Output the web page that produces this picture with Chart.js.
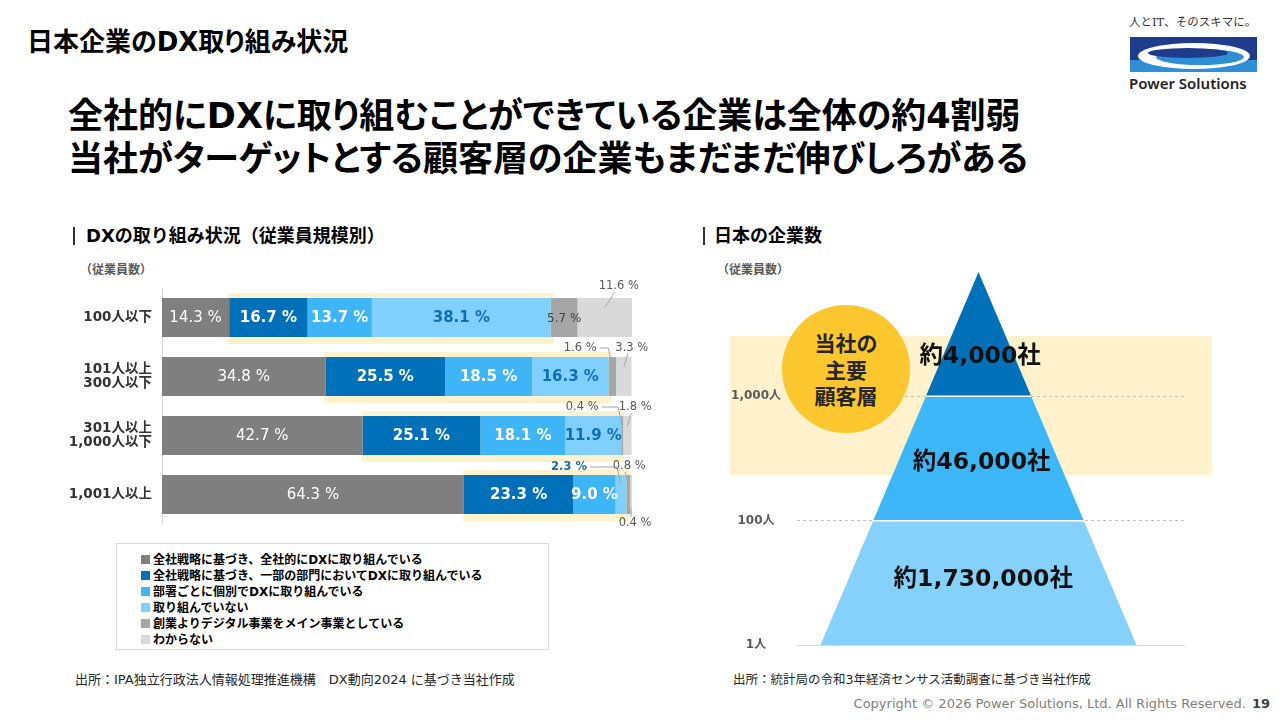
<!DOCTYPE html>
<html lang="ja">
<head>
<meta charset="utf-8">
<title>日本企業のDX取り組み状況</title>
<script src="https://cdn.jsdelivr.net/npm/chart.js@4.4.1/dist/chart.umd.min.js"></script>
<style>
  body { margin: 0; width: 1280px; height: 720px; position: relative; overflow: hidden; background: #fff;
    font-family: "DejaVu Sans", "Noto Sans CJK JP", sans-serif; color: #000; }
  .abs { position: absolute; white-space: nowrap; }
  .title { left: 27px; top: 26px; font-size: 26px; line-height: 32px; font-weight: bold; font-feature-settings: "palt"; }
  .headline { left: 68px; top: 95px; font-size: 35px; line-height: 43px; font-weight: bold; font-feature-settings: "palt"; }
  .sec { font-size: 18px; line-height: 22px; top: 225px; font-weight: bold; }
  .bar { width: 2px; height: 18px; top: 227px; background: #333; }
  .unit { font-size: 12px; line-height: 16px; top: 262px; font-weight: bold; color: #595959; }
  .legend { left: 116px; top: 543px; width: 433px; height: 107px; border: 1px solid #d9d9d9; box-sizing: border-box;
    padding: 8px 0 0 24px; font-size: 12px; line-height: 16px; font-weight: bold; }
  .legend span { display: inline-block; width: 9px; height: 9px; margin-right: 3px; vertical-align: 0px; }
  .src { top: 671px; font-size: 12.5px; line-height: 18px; color: #262626; }
  .band { left: 730px; top: 336px; width: 482px; height: 139px; background: #fff2cc; }
  .circle { left: 782px; top: 305px; width: 128px; height: 128px; border-radius: 50%; background: #fcc62e;
    display: flex; align-items: center; justify-content: center; text-align: center;
    font-size: 21px; line-height: 26.5px; font-weight: bold; color: #262626; z-index: 3; font-family: "Noto Sans CJK JP", sans-serif; }
  .foot { right: 10px; top: 695px; font-size: 13px; line-height: 18px; color: #7f7f7f; }
  .foot b { color: #404040; margin-left: 6px; }
  #dxWrap { left: 60px; top: 268px; z-index: 2; }
  #pyrWrap { left: 700px; top: 246px; z-index: 2; }
</style>
</head>
<body>
<div class="abs title">日本企業のDX取り組み状況</div>
<div class="abs headline">全社的にDXに取り組むことができている企業は全体の約4割弱<br>当社がターゲットとする顧客層の企業もまだまだ伸びしろがある</div>

<svg class="abs" style="left:1126px; top:10px;" width="136" height="86">
  <text x="3" y="16" font-family="DejaVu Serif, Noto Sans CJK JP" font-size="11.5" fill="#333">人とIT、そのスキマに。</text>
  <rect x="4" y="27" width="127" height="35" fill="#1f3b8b"/>
  <rect x="4" y="50" width="127" height="12" fill="#2f8fd6"/>
  <ellipse cx="68" cy="46" rx="56" ry="13" fill="#fff"/>
  <ellipse cx="74" cy="47" rx="44" ry="8" fill="#2f8fd6"/>
  <ellipse cx="62" cy="43" rx="40" ry="5" fill="#1f3b8b"/>
  <text x="3" y="79" font-family="Noto Sans, DejaVu Sans" font-size="15" font-weight="600" fill="#222">Power Solutions</text>
</svg>

<div class="abs bar" style="left:73px;"></div>
<div class="abs sec" style="left:86px;">DXの取り組み状況（従業員規模別）</div>
<div class="abs bar" style="left:703px;"></div>
<div class="abs sec" style="left:714px;">日本の企業数</div>
<div class="abs unit" style="left:80px;">（従業員数）</div>
<div class="abs unit" style="left:717px;">（従業員数）</div>

<div class="abs band"></div>
<div class="abs circle">当社の<br>主要<br>顧客層</div>

<div class="abs" id="dxWrap"><canvas id="dxChart" width="600" height="276"></canvas></div>
<div class="abs" id="pyrWrap"><canvas id="pyrChart" width="540" height="425"></canvas></div>

<div class="abs legend" id="legend"></div>

<div class="abs src" style="left:75px; font-size:13px;">出所：IPA独立行政法人情報処理推進機構　DX動向2024 に基づき当社作成</div>
<div class="abs src" style="left:733px;">出所：統計局の令和3年経済センサス活動調査に基づき当社作成</div>
<div class="abs foot">Copyright © 2026 Power Solutions, Ltd. All Rights Reserved.<b>19</b></div>

<script>
// ---- データ（DX取り組み状況 / 従業員規模別, %）----
const categories = [['100人以下'], ['101人以上', '300人以下'], ['301人以上', '1,000人以下'], ['1,001人以上']];
const seriesNames = [
  '全社戦略に基づき、全社的にDXに取り組んでいる',
  '全社戦略に基づき、一部の部門においてDXに取り組んでいる',
  '部署ごとに個別でDXに取り組んでいる',
  '取り組んでいない',
  '創業よりデジタル事業をメイン事業としている',
  'わからない'
];
const zenshaTeki = [14.3, 34.8, 42.7, 64.3];
const ichibuBumon = [16.7, 25.5, 25.1, 23.3];
const bushoKobetsu = [13.7, 18.5, 18.1, 9.0];
const torikundeinai = [38.1, 16.3, 11.9, 2.3];
const digitalMain = [5.7, 1.6, 0.4, 0.8];
const wakaranai = [11.6, 3.3, 1.8, 0.4];

// ---- データ（日本の企業数）----
const pyramidLevels = ['1人', '100人', '1,000人'];
const companyCounts = ['約1,730,000社', '約46,000社', '約4,000社'];

// ---- 見た目 ----
const seriesColors = ['#7f7f7f', '#0071b9', '#3db5f7', '#81cffc', '#a6a6a6', '#d9d9d9'];
const tierColors = ['#85d1fc', '#3eb7f8', '#0071b9'];
const labelStyles = [
  { color: '#fff', weight: 'normal', size: 15 },
  { color: '#fff', weight: 'bold', size: 15 },
  { color: '#fff', weight: 'bold', size: 15 },
  { color: '#0f6fb5', weight: 'bold', size: 15 },
  { color: '#404040', weight: 'normal', size: 12 },
  { color: '#404040', weight: 'normal', size: 12 }
];
// 小さい値は引き出し線つきで外側に置く（ラベル中心 = 区間中心 + dx, 棒の上下端 + dy）
const callouts = [
  { row: 0, ds: 5, dx: 14, dy: -12, edge: 'top' },
  { row: 1, ds: 4, dx: -32, dy: -9, edge: 'top', elbow: true },
  { row: 1, ds: 5, dx: 8, dy: -9, edge: 'top' },
  { row: 2, ds: 4, dx: -40, dy: -9, edge: 'top', elbow: true },
  { row: 2, ds: 5, dx: 8, dy: -9, edge: 'top' },
  { row: 3, ds: 3, dx: -52, dy: -8, edge: 'top', elbow: true },
  { row: 3, ds: 4, dx: 1, dy: -9, edge: 'top' },
  { row: 3, ds: 5, dx: 4, dy: 9, edge: 'bottom' }
];
const tierLabelPos = [[0.03, 0.52], [0.02, 1.465], [0.01, 2.32]];

const FONT = '"DejaVu Sans", "Noto Sans CJK JP", sans-serif';
Chart.defaults.font.family = FONT;

const seriesValues = [zenshaTeki, ichibuBumon, bushoKobetsu, torikundeinai, digitalMain, wakaranai];

// legend (HTML)
document.getElementById('legend').innerHTML = seriesNames
  .map((n, i) => '<div><span style="background:' + seriesColors[i] + '"></span>' + n + '</div>')
  .join('');

const fmt = v => v.toFixed(1) + ' %';

const dxLabels = {
  id: 'dxLabels',
  beforeDatasetsDraw(chart) {
    // 取り組み中の範囲（一部部門〜取り組んでいない）の黄色い下地
    const ctx = chart.ctx;
    const from = chart.getDatasetMeta(1).data;
    const to = chart.getDatasetMeta(3).data;
    ctx.save();
    ctx.fillStyle = '#fff2cc';
    from.forEach((bar, i) => {
      const p = bar.getProps(['y', 'base', 'height'], true);
      const l = p.base - 1;
      const r = to[i].getProps(['x'], true).x + 3;
      ctx.fillRect(l, p.y - p.height / 2 - 5, r - l, p.height + 12);
    });
    ctx.restore();
  },
  afterDatasetsDraw(chart) {
    const ctx = chart.ctx;
    ctx.save();
    ctx.textBaseline = 'middle';
    chart.data.datasets.forEach((ds, di) => {
      chart.getDatasetMeta(di).data.forEach((bar, ri) => {
        const p = bar.getProps(['x', 'y', 'base', 'height'], true);
        const cx = (p.x + p.base) / 2;
        const v = ds.data[ri];
        const co = callouts.find(c => c.row === ri && c.ds === di);
        if (!co) {
          const st = labelStyles[di];
          ctx.font = st.weight + ' ' + st.size + 'px ' + FONT;
          ctx.fillStyle = st.color;
          ctx.textAlign = 'center';
          ctx.fillText(fmt(v), cx, p.y + 1);
          return;
        }
        const top = p.y - p.height / 2, bottom = p.y + p.height / 2;
        const edgeY = co.edge === 'top' ? top : bottom;
        const lx = cx + co.dx, ly = edgeY + co.dy;
        const blue = di === 3;
        ctx.font = (blue ? 'bold ' : '') + '11.5px ' + FONT;
        ctx.fillStyle = blue ? '#0f6fb5' : '#595959';
        ctx.textAlign = 'center';
        ctx.fillText(fmt(v), lx, ly);
        const w = ctx.measureText(fmt(v)).width;
        ctx.strokeStyle = '#a6a6a6';
        ctx.lineWidth = 1;
        ctx.beginPath();
        if (co.elbow) {
          ctx.moveTo(lx + w / 2 + 3, ly);
          ctx.lineTo(cx - 4, ly);
          ctx.lineTo(cx, edgeY + 9);
        } else if (co.edge === 'top') {
          ctx.moveTo(lx - 4, ly + 6);
          ctx.lineTo(cx, edgeY + 10);
        } else {
          ctx.moveTo(lx - 4, ly - 6);
          ctx.lineTo(cx, edgeY - 6);
        }
        ctx.stroke();
      });
    });
    ctx.restore();
  }
};

new Chart(document.getElementById('dxChart'), {
  type: 'bar',
  data: {
    labels: categories,
    datasets: seriesValues.map((vals, i) => ({
      label: seriesNames[i],
      data: vals,
      backgroundColor: seriesColors[i],
      borderWidth: 0,
      categoryPercentage: 1,
      barPercentage: 0.66
    }))
  },
  options: {
    indexAxis: 'y',
    responsive: false,
    animation: false,
    layout: { padding: { top: 20, right: 28, bottom: 20, left: 0 } },
    plugins: { legend: { display: false }, tooltip: { enabled: false } },
    scales: {
      x: { stacked: true, display: false, min: 0, max: 100.1 },
      y: {
        stacked: true,
        grid: { display: false, drawTicks: false },
        border: { color: '#d9d9d9' },
        ticks: { color: '#333', font: { weight: 'bold', size: 13.5, lineHeight: 1.1 }, padding: 10 },
        afterFit(s) { s.width = 102; }
      }
    }
  },
  plugins: [dxLabels]
});

// ---- ピラミッド ----
const halfWidth = level => 1 - level / 3; // 頂点は level 3
const tierSets = companyCounts.map((_, i) => ({
  data: [
    { x: -halfWidth(i), y: i }, { x: halfWidth(i), y: i },
    { x: halfWidth(i + 1), y: i + 1 }, { x: -halfWidth(i + 1), y: i + 1 }
  ],
  showLine: true,
  fill: 'shape',
  backgroundColor: tierColors[i],
  borderColor: 'rgba(0,0,0,0)',
  borderWidth: 0,
  pointRadius: 0
}));
const separatorSets = [1, 2].map(l => ({
  data: [{ x: -halfWidth(l), y: l }, { x: halfWidth(l), y: l }],
  showLine: true,
  fill: false,
  borderColor: '#fff',
  borderWidth: 1.5,
  pointRadius: 0
}));

const tierLabels = {
  id: 'tierLabels',
  afterDatasetsDraw(chart) {
    const ctx = chart.ctx, sx = chart.scales.x, sy = chart.scales.y;
    ctx.save();
    ctx.font = 'bold 23.5px ' + FONT;
    ctx.fillStyle = '#111';
    ctx.textAlign = 'center';
    ctx.textBaseline = 'middle';
    companyCounts.forEach((t, i) => {
      ctx.fillText(t, sx.getPixelForValue(tierLabelPos[i][0]), sy.getPixelForValue(tierLabelPos[i][1]));
    });
    ctx.restore();
  }
};

new Chart(document.getElementById('pyrChart'), {
  type: 'scatter',
  data: { datasets: separatorSets.concat(tierSets) },
  options: {
    responsive: false,
    animation: false,
    layout: { padding: { top: 26, right: 55, bottom: 26, left: 0 } },
    plugins: { legend: { display: false }, tooltip: { enabled: false } },
    scales: {
      x: { type: 'linear', display: false, min: -1.149, max: 1.307 },
      y: {
        type: 'linear', min: 0, max: 3,
        afterBuildTicks(s) { s.ticks = [0, 1, 2].map(v => ({ value: v })); },
        ticks: {
          callback: v => pyramidLevels[v],
          color: '#595959',
          font: { weight: 'bold', size: 12 },
          crossAlign: 'center',
          padding: 16
        },
        grid: { drawTicks: false, color: c => (c.tick && c.tick.value === 0 ? '#d9d9d9' : '#bfbfbf') },
        border: { display: false, dash: c => (c.tick && c.tick.value === 0 ? [] : [3, 3]) },
        afterFit(s) { s.width = 97; }
      }
    }
  },
  plugins: [tierLabels]
});
</script>
</body>
</html>
